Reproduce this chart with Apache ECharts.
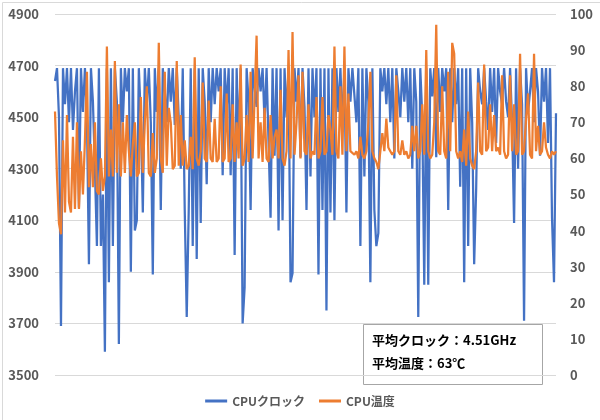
<!DOCTYPE html>
<html><head><meta charset="utf-8">
<script src="https://cdn.jsdelivr.net/npm/echarts@6/dist/echarts.min.js"></script>
<style>html,body{margin:0;padding:0;background:#fff}#c{width:600px;height:420px}</style>
</head><body><div id="c"></div>
<script>
const leftTicks = [3500, 4900, 200];
const rightTicks = [0, 100, 10];
const seriesNames = ['CPUクロック', 'CPU温度'];
const summaryLines = ['平均クロック：4.51GHz', '平均温度：63℃'];

const cpuClock = [
4640,4690,4500,3690,4690,4550,4690,4480,4690,4450,4600,4690,4150,4690,4520,4690,4500,3930,4690,4560,4300,4000,4690,4000,4200,
3590,4690,3860,4690,4000,4690,4560,3620,4690,4480,4690,4600,4690,3900,4690,4060,4100,4690,4500,4130,4690,4550,4690,4480,3890,
4690,4520,4690,4140,4690,4600,4480,4690,4560,4690,4470,4690,4690,4300,4690,4140,3725,4140,4690,4000,4690,3950,4690,4090,4690,
4560,4240,4690,4480,4690,4550,4690,4600,4690,4275,4690,4530,4690,4275,4690,3965,4690,4400,4690,3700,3840,4690,4560,4140,4690,
4690,4540,4690,4600,4690,4480,4690,4400,4110,4690,4350,4690,4060,4690,4100,4690,4500,4690,3860,3895,4690,4560,4690,4345,4690,
4540,4140,4690,4270,4690,4500,4690,3890,4690,4140,4690,3750,4690,4130,4690,4100,4690,4520,4690,4450,4690,4130,4690,4560,4690,
4690,4480,4690,4000,4690,4270,4690,4560,3860,4690,4140,4000,4050,4690,4600,4690,4550,4690,4480,4690,4340,4690,4600,4500,4690,
4560,4690,4480,4690,4300,4690,4560,3725,4690,4500,3850,4690,3850,4690,4580,4690,4345,4690,4520,4690,4600,4690,4140,4690,4480,
4690,4550,4690,4230,4690,3860,4690,4000,4690,4480,3930,4220,4690,4600,4550,4690,4560,4450,4690,4520,4690,4400,4690,4600,4550,
4690,4560,4500,4690,4480,4090,4690,4300,4690,4550,3710,4690,4520,4600,4690,4480,4690,4600,4350,4690,4560,4690,4400,4690,4110,3860,4515
];
const cpuTemp = [
73,55,42,39,65,45,72,48,45,66,46,70,46,62,50,65,84,52,64,52,70,51,50,60,51,
55,91,55,68,55,87,56,75,55,70,56,72,62,55,64,70,55,56,77,56,70,80,56,55,67,
56,60,92,60,56,84,58,74,70,57,58,87,58,72,58,65,57,58,66,57,88,60,58,62,81,
60,59,76,60,59,71,59,60,80,59,60,78,59,60,75,59,70,60,86,58,60,72,59,84,60,
60,94,60,70,59,74,60,59,72,60,66,68,60,79,60,58,62,90,60,95,61,70,83,60,84,
62,61,75,60,62,61,77,60,62,77,61,62,72,68,61,91,62,60,80,61,91,62,78,62,62,
61,62,60,66,61,60,62,70,84,62,60,59,57,62,67,62,71,63,62,61,62,83,62,61,65,
61,62,60,61,69,62,69,60,62,75,61,90,62,60,61,70,97,62,61,80,62,60,84,62,92,
89,62,60,62,59,68,58,73,60,58,57,62,81,62,61,86,62,63,75,62,72,62,63,61,83,
62,60,61,83,62,75,61,62,89,61,62,71,78,61,60,89,62,69,61,62,70,63,61,60,62,61,62
];
const idx = cpuClock.map((_, i) => i + 1);

const chart = echarts.init(document.getElementById('c'), null, {renderer: 'canvas'});
const lab = {color: '#595959', fontSize: 13, fontWeight: 'bold', fontFamily: 'Noto Sans CJK JP'};
chart.setOption({
  animation: false,
  grid: {left: 55, right: 44, top: 14, bottom: 45},
  legend: {
    bottom: 8, left: 'center', icon: 'rect', itemWidth: 22, itemHeight: 3, itemGap: 14,
    textStyle: Object.assign({}, lab, {fontSize: 12}), data: seriesNames
  },
  xAxis: {type: 'category', data: idx, boundaryGap: false,
    axisLine: {show: false}, axisTick: {show: false}, axisLabel: {show: false}, splitLine: {show: false}},
  yAxis: [
    {type: 'value', min: leftTicks[0], max: leftTicks[1], interval: leftTicks[2],
     axisLine: {show: false}, axisTick: {show: false},
     axisLabel: Object.assign({margin: 16, formatter: v => String(v)}, lab),
     splitLine: {lineStyle: {color: '#d9d9d9', width: 1}}},
    {type: 'value', min: rightTicks[0], max: rightTicks[1], interval: rightTicks[2],
     axisLine: {show: false}, axisTick: {show: false},
     axisLabel: Object.assign({margin: 14, formatter: v => String(v)}, lab),
     splitLine: {show: false}}
  ],
  series: [
    {name: seriesNames[0], type: 'line', data: cpuClock, yAxisIndex: 0, symbol: 'none',
     lineStyle: {color: '#4472C4', width: 2.25}, itemStyle: {color: '#4472C4'}},
    {name: seriesNames[1], type: 'line', data: cpuTemp, yAxisIndex: 1, symbol: 'none',
     lineStyle: {color: '#ED7D31', width: 2.25}, itemStyle: {color: '#ED7D31'}}
  ],
  graphic: [
    {type: 'rect', left: 0, top: 0, z: 100, silent: true,
     shape: {x: 0.5, y: 0.5, width: 599, height: 419},
     style: {fill: 'none', stroke: '#d9d9d9', lineWidth: 1}},
    {type: 'group', left: 363, top: 324, z: 100, children: [
      {type: 'rect', shape: {x: 0.5, y: 0.5, width: 179, height: 60},
       style: {fill: '#fff', stroke: '#a6a6a6', lineWidth: 1}},
      {type: 'text', x: 9, y: 10, style: {text: summaryLines[0], fill: '#000', font: 'bold 13px "Noto Sans CJK JP"'}},
      {type: 'text', x: 9, y: 33, style: {text: summaryLines[1], fill: '#000', font: 'bold 13px "Noto Sans CJK JP"'}}
    ]}
  ]
});
</script></body></html>
